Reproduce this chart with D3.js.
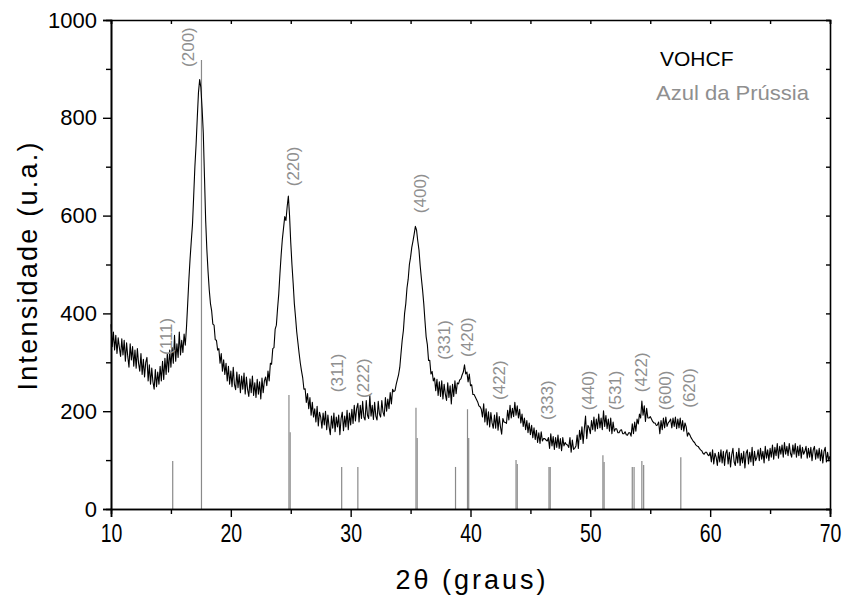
<!DOCTYPE html>
<html>
<head>
<meta charset="utf-8">
<script src="https://cdn.jsdelivr.net/npm/d3@7"></script>
<style>
  body { margin: 0; background: #fff; }
  text { font-family: "Liberation Sans", Arial, sans-serif; }
</style>
</head>
<body>
<div id="canvas"></div>
<script>
// XRD pattern, 2theta from 10 to 70 step 0.1 (one row per degree)
const start = 10, step = 0.1
const intensity = [
  378, 332, 362, 325, 355, 318, 350, 330, 312, 348,
  315, 345, 302, 340, 312, 290, 338, 305, 332, 292,
  325, 288, 328, 298, 282, 318, 275, 306, 270, 300,
  310, 262, 295, 255, 288, 260, 245, 285, 250, 280,
  255, 292, 262, 302, 265, 308, 275, 318, 280, 325,
  290, 330, 298, 355, 302, 338, 310, 362, 315, 345,
  320, 358, 335, 372, 420, 470, 512, 548, 582, 640,
  700, 745, 800, 852, 878, 862, 820, 770, 680, 590,
  530, 485, 448, 420, 405, 378, 376, 346, 345, 325,
  328, 298, 318, 282, 305, 275, 298, 262, 292, 255,
  282, 250, 290, 255, 244, 280, 248, 275, 238, 272,
  245, 278, 235, 270, 244, 230, 266, 238, 272, 232,
  258, 228, 265, 235, 260, 225, 268, 238, 262, 270,
  252, 282, 262, 298, 296, 328, 330, 368, 376, 410,
  440, 482, 520, 552, 575, 598, 590, 618, 640, 600,
  545, 500, 462, 420, 392, 362, 340, 318, 298, 282,
  268, 245, 246, 218, 236, 205, 228, 192, 218, 188,
  205, 178, 210, 170, 198, 188, 165, 196, 172, 200,
  162, 192, 168, 152, 190, 165, 196, 158, 188, 168,
  192, 152, 185, 198, 160, 190, 168, 202, 162, 196,
  172, 204, 175, 212, 180, 206, 216, 178, 212, 185,
  220, 188, 182, 222, 192, 185, 232, 190, 212, 183,
  218, 190, 182, 220, 194, 188, 222, 198, 190, 228,
  200, 225, 205, 238, 215, 245, 240, 242, 255, 265,
  275, 290, 318, 345, 365, 400, 420, 452, 470, 500,
  515, 535, 548, 562, 578, 570, 548, 530, 498, 472,
  448, 420, 385, 352, 336, 304, 304, 276, 281, 262,
  268, 242, 265, 232, 260, 230, 262, 225, 255, 235,
  222, 258, 228, 252, 215, 255, 230, 262, 236, 258,
  256, 264, 266, 274, 280, 295, 276, 280, 260, 276,
  252, 254, 234, 234, 229, 224, 219, 211, 209, 204,
  188, 215, 178, 205, 172, 199, 168, 197, 176, 165,
  192, 165, 197, 161, 189, 168, 153, 185, 178, 177,
  175, 202, 182, 212, 186, 206, 189, 218, 192, 211,
  186, 204, 176, 194, 169, 186, 162, 181, 156, 176,
  152, 171, 146, 166, 142, 161, 136, 156, 134, 158,
  139, 144, 144, 141, 139, 146, 124, 154, 129, 148,
  122, 146, 126, 151, 124, 144, 119, 146, 129, 136,
  132, 131, 126, 146, 116, 141, 122, 124, 129, 151,
  124, 161, 142, 168, 134, 164, 190, 144, 171, 166,
  154, 181, 162, 188, 159, 184, 164, 194, 166, 186,
  162, 201, 169, 191, 164, 184, 159, 186, 154, 178,
  159, 164, 164, 156, 156, 161, 162, 154, 154, 158,
  152, 151, 156, 156, 149, 174, 154, 178, 159, 184,
  174, 194, 186, 221, 192, 211, 179, 206, 186, 186,
  189, 184, 179, 176, 176, 171, 172, 178, 154, 181,
  162, 186, 166, 188, 169, 176, 179, 184, 166, 186,
  169, 188, 164, 184, 166, 186, 162, 181, 159, 176,
  168, 149, 156, 152, 146, 142, 138, 136, 131, 129,
  128, 124, 121, 119, 114, 112, 116, 116, 111, 109,
  116, 96, 121, 92, 114, 106, 89, 116, 96, 121,
  94, 118, 89, 114, 121, 92, 116, 86, 111, 124,
  96, 89, 116, 94, 124, 89, 114, 94, 118, 84,
  114, 121, 92, 116, 96, 126, 89, 118, 99, 106,
  121, 99, 124, 102, 118, 94, 128, 104, 121, 99,
  124, 106, 131, 102, 126, 109, 134, 104, 128, 112,
  131, 106, 136, 112, 128, 109, 134, 114, 106, 131,
  112, 134, 106, 128, 109, 131, 104, 126, 112, 118,
  128, 104, 124, 106, 126, 99, 121, 128, 102, 121,
  104, 124, 99, 121, 94, 118, 126, 96, 116, 99,
  108
]

// Prussian blue reference pattern (sticks)
const stickAngle = [15.15, 17.55, 24.85, 24.95, 29.25, 30.6, 35.45, 35.55, 38.75, 39.75, 39.85,
  43.8, 43.9, 46.55, 46.65, 51.05, 51.15, 53.5, 53.65, 54.3, 54.45, 57.55]
const stickIntensity = [98, 918, 233, 157, 86, 86, 207, 145, 86, 204, 145,
  100, 92, 86, 86, 110, 96, 86, 86, 98, 90, 106]

// hkl labels
const hkl = ["(111)", "(200)", "(220)", "(311)", "(222)", "(400)", "(331)", "(420)",
  "(422)", "(333)", "(440)", "(531)", "(422)", "(600)", "(620)"]
const hklAngle = [14.6, 16.4, 25.2, 28.9, 31.0, 35.8, 37.8, 39.7, 42.4, 46.4, 49.8, 52.1, 54.2, 56.2, 58.2]
const hklIntensity = [315, 904, 660, 239, 227, 605, 305, 311, 223, 182, 202, 202, 239, 202, 207]

const xTicks = [10, 20, 30, 40, 50, 60, 70]
const yTicks = [0, 200, 400, 600, 800, 1000]

const data = intensity.map((v, i) => ({ x: start + i * step, y: v }))

const width = 846
const height = 599
const margin = { top: 20, left: 111, bottom: 90, right: 16 }
const iwidth = width - margin.left - margin.right
const iheight = height - margin.top - margin.bottom

const svg = d3.select("#canvas").append("svg")
  .attr("width", width)
  .attr("height", height)

const g = svg.append("g").attr("transform", `translate(${margin.left},${margin.top})`)

const x = d3.scaleLinear().domain([10, 70]).range([0, iwidth])
const y = d3.scaleLinear().domain([0, 1000]).range([iheight, 0])

// sticks
g.selectAll("line.stick").data(stickAngle).enter().append("line")
  .attr("class", "stick")
  .attr("x1", d => x(d)).attr("x2", d => x(d))
  .attr("y1", y(0))
  .attr("y2", (d, i) => y(stickIntensity[i]))
  .style("stroke", "#8a8a8a")
  .style("stroke-width", 1.2)

// pattern
const line = d3.line().x(d => x(d.x)).y(d => y(d.y))
g.append("path").datum(data)
  .attr("d", line)
  .style("fill", "none")
  .style("stroke", "#000")
  .style("stroke-width", 1.1)
  .style("stroke-linejoin", "round")

// hkl labels
g.selectAll("text.hkl").data(hkl).enter().append("text")
  .attr("class", "hkl")
  .attr("transform", (d, i) => `translate(${x(hklAngle[i])},${y(hklIntensity[i])}) rotate(-90)`)
  .attr("dy", "0.35em")
  .style("font-size", "17px")
  .style("fill", "#8f8f8f")
  .text(d => d)

// axes
const xAxis = g.append("g")
  .attr("transform", `translate(0,${iheight})`)
  .call(d3.axisBottom(x).tickValues(xTicks).tickFormat(d3.format("d")).tickSize(8).tickPadding(7))
g.append("g")
  .attr("transform", `translate(0,${iheight})`)
  .call(d3.axisBottom(x).tickValues(d3.range(15, 70, 10)).tickSize(5).tickFormat(""))
const yAxis = g.append("g")
  .call(d3.axisLeft(y).tickValues(yTicks).tickFormat(d3.format("d")).tickSize(8).tickPadding(6))
g.append("g")
  .call(d3.axisLeft(y).tickValues(d3.range(100, 1000, 200)).tickSize(5).tickFormat(""))
g.append("g")
  .call(d3.axisTop(x).tickValues(d3.range(10, 71, 5)).tickSize(-4).tickFormat(""))
g.append("g")
  .attr("transform", `translate(${iwidth},0)`)
  .call(d3.axisRight(y).tickValues(d3.range(0, 1001, 100)).tickSize(-4).tickFormat(""))

g.selectAll(".domain").style("stroke", "#000").style("stroke-width", 1.6)
g.selectAll(".tick line").style("stroke", "#000").style("stroke-width", 1.4)
xAxis.selectAll("text").style("font-size", "25px").style("fill", "#000")
  .attr("transform", "scale(0.78,1)")
yAxis.selectAll("text").style("font-size", "22px").style("fill", "#000")

// axis titles
svg.append("text")
  .attr("transform", `translate(37,${margin.top + iheight / 2 + 2}) rotate(-90)`)
  .attr("text-anchor", "middle")
  .attr("textLength", 248)
  .attr("lengthAdjust", "spacing")
  .style("font-size", "27px")
  .text("Intensidade (u.a.)")
svg.append("text")
  .attr("x", margin.left + iwidth / 2)
  .attr("y", 589)
  .attr("text-anchor", "middle")
  .attr("textLength", 150)
  .attr("lengthAdjust", "spacing")
  .style("font-size", "27px")
  .text("2θ (graus)")

// legend
svg.append("text").attr("x", 660).attr("y", 66)
  .style("font-size", "21px").style("fill", "#000").text("VOHCF")
svg.append("text").attr("x", 656).attr("y", 100)
  .attr("textLength", 153)
  .attr("lengthAdjust", "spacingAndGlyphs")
  .style("font-size", "21px").style("fill", "#8f8f8f").text("Azul da Prússia")
</script>
</body>
</html>
